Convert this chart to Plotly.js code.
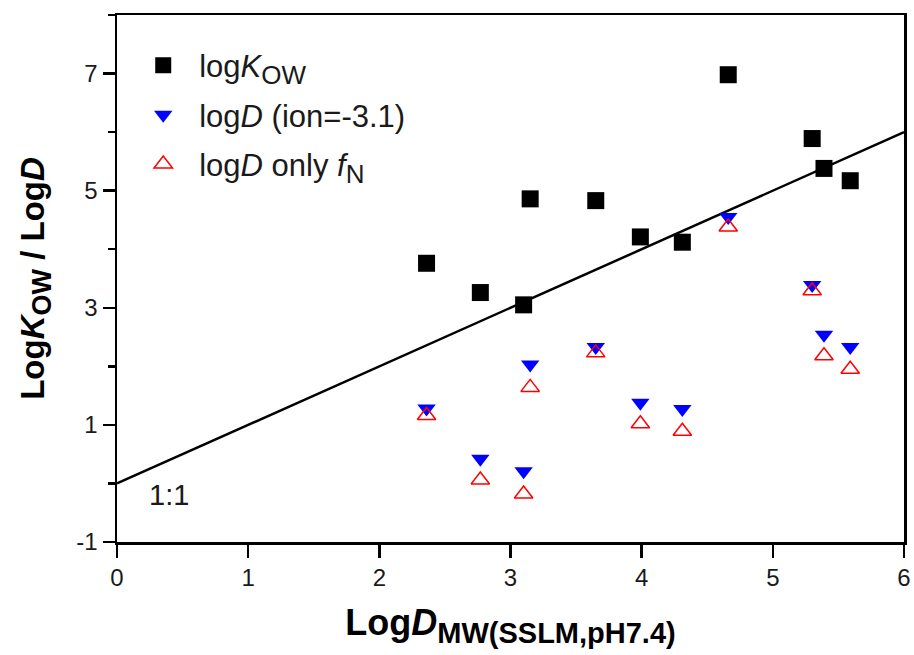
<!DOCTYPE html>
<html>
<head>
<meta charset="utf-8">
<script src="https://cdn.plot.ly/plotly-3.0.1.min.js"></script>
<style>
  html, body { margin: 0; padding: 0; background: #fff; }
  #chart { width: 914px; height: 655px; }
</style>
</head>
<body>
<div id="chart"></div>
<script>
// LogD from the SSLM membrane assay (pH 7.4), one entry per compound
const logDMW = [2.36, 2.77, 3.10, 3.15, 3.65, 3.99, 4.31, 4.66, 5.30, 5.39, 5.59];
// octanol/water partition coefficients
const logKow = [3.76, 3.26, 3.05, 4.86, 4.83, 4.21, 4.12, 6.98, 5.89, 5.38, 5.17];
// distribution coefficient with ion partitioning (ion = -3.1)
const logDIon = [1.28, 0.42, 0.21, 2.03, 2.33, 1.38, 1.27, 4.55, 3.39, 2.54, 2.33];
// distribution coefficient from the neutral fraction only
const logDfN = [1.16, 0.06, -0.18, 1.64, 2.23, 1.02, 0.89, 4.38, 3.29, 2.18, 1.95];
// 1:1 reference line
const unityX = [0, 6];
const unityY = [0, 6];
// axis tick positions and labels
const xTicks = [0, 1, 2, 3, 4, 5, 6];
const yTicks = [-1, 1, 3, 5, 7];
const yTickText = ['-1', '1', '3', '5', '7'];

const FONT = 'Liberation Sans, Arial, Helvetica, sans-serif';
const INK = '#1a1a1a';

const traces = [
  {
    x: unityX, y: unityY, mode: 'lines', showlegend: false,
    line: { color: '#000', width: 2.5 }, hoverinfo: 'skip'
  },
  {
    x: logDMW, y: logKow, mode: 'markers', legendgroup: 'a',
    name: 'log<i>K</i><sub><span style="font-size:26px">OW</span></sub>',
    marker: { symbol: 'square', size: 17, color: '#000' }
  },
  {
    x: logDMW, y: logDIon, mode: 'markers', legendgroup: 'b',
    name: 'log<i>D</i> (ion=-3.1)',
    marker: { symbol: 'triangle-down', size: 16, color: '#0000ff' }
  },
  {
    x: logDMW, y: logDfN, mode: 'markers', legendgroup: 'c',
    name: 'log<i>D</i> only <i>f</i><sub><span style="font-size:26px">N</span></sub>',
    marker: { symbol: 'triangle-up-open', size: 16, color: '#ff0000',
              line: { color: '#ff0000', width: 1.5 } }
  }
];

const layout = {
  width: 914, height: 655,
  margin: { l: 117, r: 10, t: 15, b: 113 },
  paper_bgcolor: '#fff', plot_bgcolor: '#fff',
  font: { family: FONT, color: INK },
  showlegend: true,
  legend: {
    x: 0.013, y: 0.955, xanchor: 'left', yanchor: 'top',
    bgcolor: 'rgba(0,0,0,0)', borderwidth: 0,
    font: { family: FONT, size: 31, color: INK },
    itemwidth: 62, tracegroupgap: 6, traceorder: 'grouped'
  },
  xaxis: {
    range: [0, 6], tickmode: 'array', tickvals: xTicks,
    ticks: 'outside', ticklen: 13, tickwidth: 2.5, tickcolor: '#000',
    showline: true, linewidth: 2.5, linecolor: '#000', mirror: true,
    showgrid: false, zeroline: false,
    tickfont: { family: FONT, size: 24, color: INK },
    title: {
      text: 'Log<i>D</i><sub><span style="font-size:29px">MW(SSLM,pH7.4)</span></sub>',
      font: { family: FONT, size: 36, color: '#000', weight: 700 },
      standoff: 20
    }
  },
  yaxis: {
    range: [-1, 8], tickmode: 'array', tickvals: yTicks, ticktext: yTickText,
    ticks: 'outside', ticklen: 12, tickwidth: 2.5, tickcolor: '#000',
    minor: { tickmode: 'linear', tick0: 0, dtick: 1, ticks: 'outside', ticklen: 7, tickwidth: 2.5, tickcolor: '#000', showgrid: false },
    showline: true, linewidth: 2.5, linecolor: '#000', mirror: true,
    showgrid: false, zeroline: false,
    tickfont: { family: FONT, size: 24, color: INK },
    title: {
      text: 'Log<i>K</i><sub><span style="font-size:27px">OW</span></sub> / Log<i>D</i>',
      font: { family: FONT, size: 33, color: '#000', weight: 700 },
      standoff: 22
    }
  },
  annotations: [
    {
      x: 0.40, y: -0.2, xref: 'x', yref: 'y', text: '1:1', showarrow: false,
      font: { family: FONT, size: 29, color: INK }
    }
  ]
};

Plotly.newPlot('chart', traces, layout, { staticPlot: true, displayModeBar: false });
</script>
</body>
</html>
